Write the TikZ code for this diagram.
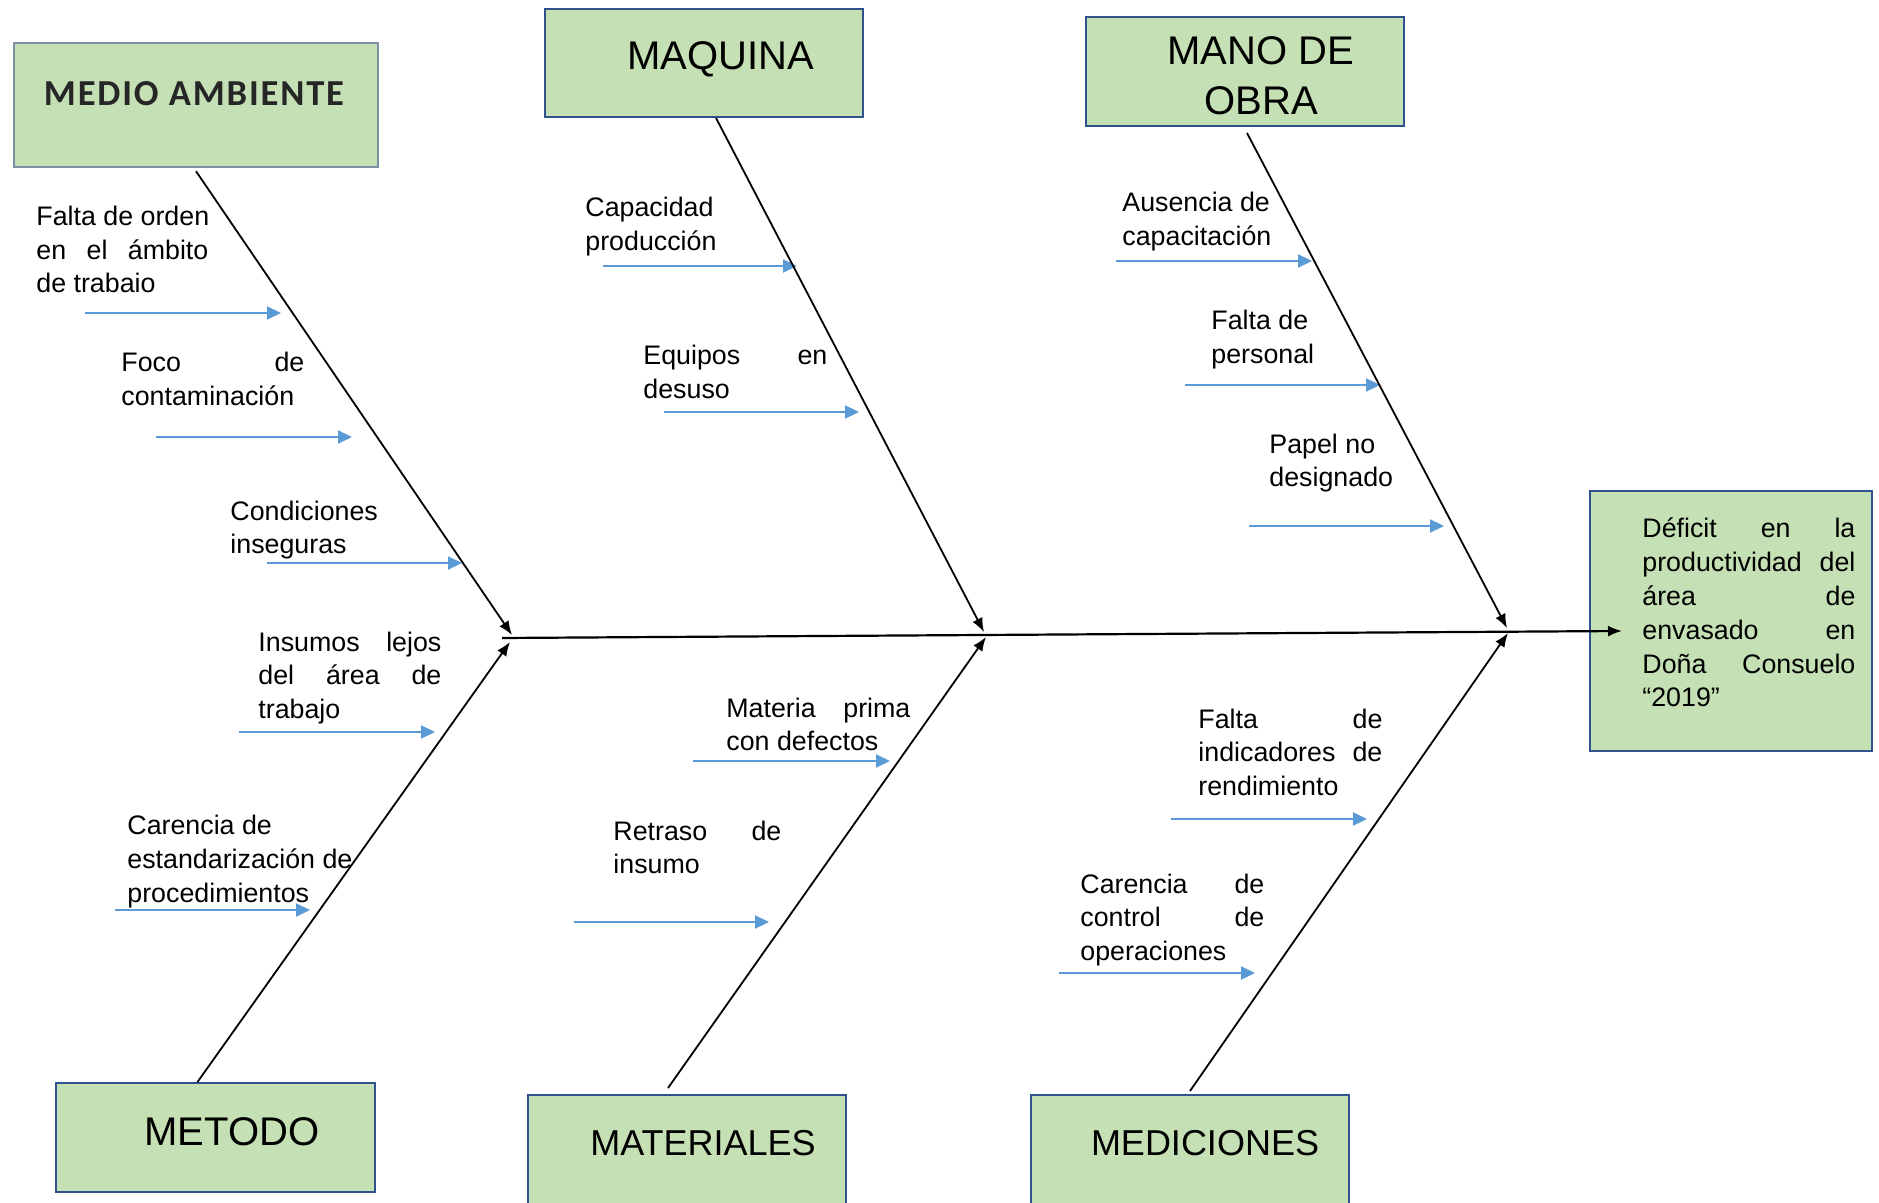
\documentclass[tikz,border=0pt]{standalone}
\usepackage{fontspec}
\setmainfont{Liberation Sans}
\newfontfamily\calfont[LetterSpace=5]{Carlito}
\usetikzlibrary{arrows.meta}
\definecolor{boxfill}{RGB}{197,224,180}
\definecolor{boxline}{RGB}{47,82,143}
\definecolor{boxgray}{RGB}{125,145,165}
\definecolor{causeblue}{RGB}{91,155,213}
\tikzset{
  box/.style={draw=boxline, fill=boxfill, line width=1pt, inner sep=0pt, rectangle},
  title/.style={font=\fontsize{20}{25}\selectfont, inner sep=0pt, anchor=base},
  smalltitle/.style={font=\fontsize{18}{22}\selectfont, inner sep=0pt, anchor=base},
  ctext/.style={font=\fontsize{13.4}{16.75}\selectfont, inner sep=0pt, anchor=base west},
  bone/.style={line width=0.9pt, -{Latex[length=7pt,width=5.5pt]}},
  spine/.style={line width=1.1pt, -{Latex[length=7pt,width=5.5pt]}},
  cause/.style={draw=causeblue, line width=1.1pt, -{Triangle[length=7pt,width=6.5pt]}},
}
\begin{document}
\begin{tikzpicture}[x=0.5pt,y=-0.5pt]
\useasboundingbox (0,0) rectangle (1879,1203);

% category boxes
\node[box, draw=boxgray, line width=1.2pt, minimum width=182pt, minimum height=62pt] (ma) at (196,105) {};
\node[box, minimum width=159pt, minimum height=54pt] (maq) at (704,63) {};
\node[box, minimum width=159pt, minimum height=54.5pt] (mo) at (1245,71.5) {};
\node[box, minimum width=159.5pt, minimum height=54.5pt] (met) at (215.5,1137.5) {};
\node[box, minimum width=159pt, minimum height=60pt] (mat) at (687,1155) {};
\node[box, minimum width=159pt, minimum height=60pt] (med) at (1190,1155) {};
\node[box, minimum width=141pt, minimum height=130pt] (eff) at (1731,621) {};

% titles
\node[inner sep=0pt, anchor=base, font=\calfont\bfseries\fontsize{18.3}{22}\selectfont, text=black!85] (maT) at (194,106) {MEDIO AMBIENTE};
\node[title] (maqT) at (721,70) {MAQUINA};
\node[title] (moT) at (1261,65) {\vtop{\halign{\hfil#\hfil\cr MANO DE\cr OBRA\cr}}};
\node[title] (metT) at (232,1145) {METODO};
\node[smalltitle] (matT) at (703,1155) {MATERIALES};
\node[smalltitle] (medT) at (1205,1155) {MEDICIONES};

% effect text
\node[inner sep=0pt, anchor=base west, font=\fontsize{13.4}{16.9}\selectfont] (effT) at (1642,538)
 {\vtop{\hbox to 106.5pt{Déficit\hfill en\hfill la}\hbox to 106.5pt{productividad\hfill del}\hbox to 106.5pt{área\hfill de}\hbox to 106.5pt{envasado\hfill en}\hbox to 106.5pt{Doña\hfill Consuelo}\hbox{“2019”}}};

% cause texts
\node[ctext] (t1) at (36,226) {\vtop{\hbox{Falta de orden}\hbox to 86pt{en\hfill el\hfill ámbito}\hbox{de trabaio}}};
\node[ctext] (t2) at (121,372) {\vtop{\hbox to 91.5pt{Foco\hfill de}\hbox{contaminación}}};
\node[ctext] (t3) at (230,520) {\vtop{\hbox{Condiciones}\hbox{inseguras}}};
\node[ctext] (t4) at (258,651) {\vtop{\hbox to 91.5pt{Insumos\hfill lejos}\hbox to 91.5pt{del\hfill área\hfill de}\hbox{trabajo}}};
\node[ctext, font=\fontsize{13.4}{17}\selectfont] (t5) at (127,834) {\vtop{\hbox{Carencia de}\hbox{estandarización de}\hbox{procedimientos}}};
\node[ctext] (t6) at (585,217) {\vtop{\hbox{Capacidad}\hbox{producción}}};
\node[ctext] (t7) at (643,365) {\vtop{\hbox to 92pt{Equipos\hfill en}\hbox{desuso}}};
\node[ctext] (t8) at (1122,212) {\vtop{\hbox{Ausencia de}\hbox{capacitación}}};
\node[ctext] (t9) at (1211,330) {\vtop{\hbox{Falta de}\hbox{personal}}};
\node[ctext] (t10) at (1269,453) {\vtop{\hbox{Papel no}\hbox{designado}}};
\node[ctext] (t11) at (726,717) {\vtop{\hbox to 92pt{Materia\hfill prima}\hbox{con defectos}}};
\node[ctext] (t12) at (613,840) {\vtop{\hbox to 84pt{Retraso\hfill de}\hbox{insumo}}};
\node[ctext] (t13) at (1198,728) {\vtop{\hbox to 92pt{Falta\hfill de}\hbox to 92pt{indicadores\hfill de}\hbox{rendimiento}}};
\node[ctext] (t14) at (1080,893) {\vtop{\hbox to 92pt{Carencia\hfill de}\hbox to 92pt{control\hfill de}\hbox{operaciones}}};

% cause arrows
\foreach \n/\xa/\xb/\yy in {c1/85/281/313, c2/156/352/437, c3/267/462/563, c4/239/435/732, c5/115/310/910,
  c6/603/797/266, c7/664/859/412, c8/1116/1312/261, c9/1185/1380/385, c10/1249/1444/526,
  c11/693/890/761, c12/574/769/922, c13/1171/1367/819, c14/1059/1255/973} {
  \coordinate (\n s) at (\xa,\yy);
  \coordinate (\n e) at (\xb,\yy);
  \draw[cause] (\n s) -- (\n e);
}

% spine and bones
\coordinate (spL) at (502,638);
\coordinate (tip) at (1622,631);
\coordinate (j1a) at (512,635);
\coordinate (j1b) at (510,642);
\coordinate (j2a) at (984,632);
\coordinate (j2b) at (986,637);
\coordinate (j3a) at (1507,628);
\coordinate (j3b) at (1508,633);
\draw[spine] (spL) -- (tip);
\draw[bone] ([yshift=-1.5pt]ma.south) -- (j1a);
\draw[bone] ([xshift=6pt]maq.south) -- (j2a);
\draw[bone] ([xshift=1pt,yshift=-3pt]mo.south) -- (j3a);
\draw[bone] ([xshift=-9pt]met.north) -- (j1b);
\draw[bone] ([xshift=-9.5pt,yshift=3pt]mat.north) -- (j2b);
\draw[bone] ([yshift=1.5pt]med.north) -- (j3b);
\end{tikzpicture}
\end{document}
